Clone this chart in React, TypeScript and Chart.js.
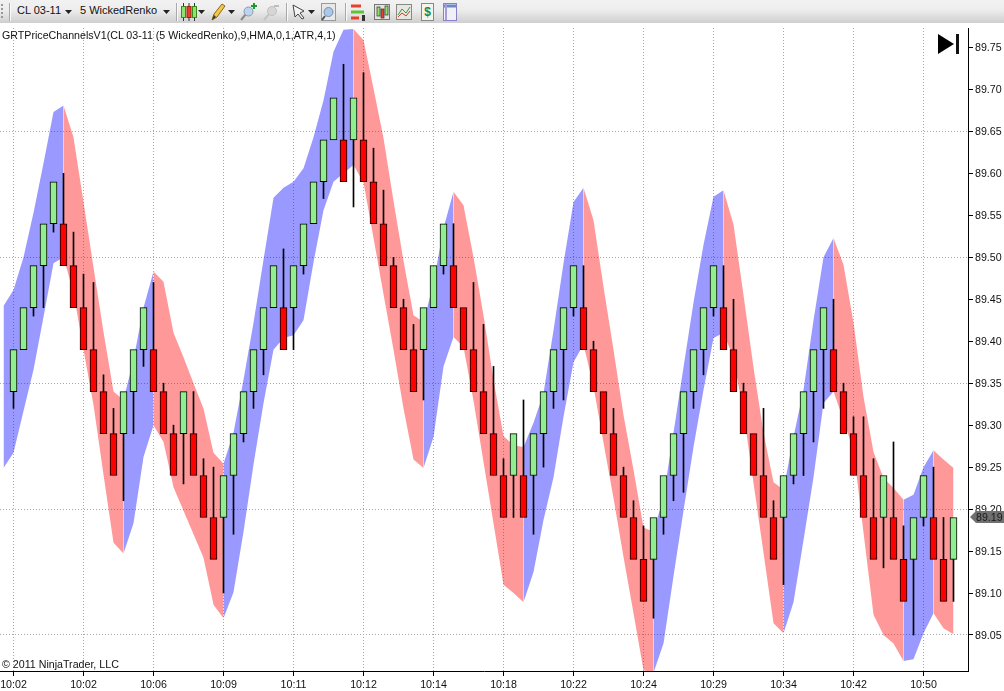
import React, { useEffect, useRef } from "react";
import { Chart, registerables } from "chart.js";
Chart.register(...registerables);

const instrument = "CL 03-11";
const barType = "5 WickedRenko";
const indicatorTitle = "GRTPriceChannelsV1(CL 03-11 (5 WickedRenko),9,HMA,0,1,ATR,4,1)";
const copyright = "© 2011 NinjaTrader, LLC";

const timeTicks = [0, 7, 14, 21, 28, 35, 42, 49, 56, 63, 70, 77, 84, 91];
const timeLabels = ["10:02", "10:02", "10:06", "10:09", "10:11", "10:12", "10:14", "10:18", "10:22", "10:24", "10:29", "10:34", "10:42", "10:50"];
const priceTicks = [89.05, 89.1, 89.15, 89.2, 89.25, 89.3, 89.35, 89.4, 89.45, 89.5, 89.55, 89.6, 89.65, 89.7, 89.75];
const priceGridLines = [89.05, 89.2, 89.35, 89.5, 89.65];

// renko bricks, one per bar
const opens = [
	89.34, 89.39, 89.44, 89.49, 89.54, 89.54, 89.49, 89.44, 89.39, 89.34, 89.29, 89.29, 89.34, 89.39, 89.39, 89.34,
	89.29, 89.29, 89.29, 89.24, 89.19, 89.19, 89.24, 89.29, 89.34, 89.39, 89.44, 89.44, 89.44, 89.49, 89.54, 89.59,
	89.64, 89.64, 89.64, 89.64, 89.59, 89.54, 89.49, 89.44, 89.39, 89.39, 89.44, 89.49, 89.49, 89.44, 89.39, 89.34,
	89.29, 89.24, 89.24, 89.24, 89.24, 89.29, 89.34, 89.39, 89.44, 89.44, 89.39, 89.34, 89.29, 89.24, 89.19, 89.14,
	89.14, 89.19, 89.24, 89.29, 89.34, 89.39, 89.44, 89.44, 89.39, 89.34, 89.29, 89.24, 89.19, 89.19, 89.24, 89.29,
	89.34, 89.39, 89.39, 89.34, 89.29, 89.24, 89.19, 89.19, 89.19, 89.14, 89.14, 89.19, 89.19, 89.14, 89.14,
];
const closes = [
	89.39, 89.44, 89.49, 89.54, 89.59, 89.49, 89.44, 89.39, 89.34, 89.29, 89.24, 89.34, 89.39, 89.44, 89.34, 89.29,
	89.24, 89.34, 89.24, 89.19, 89.14, 89.24, 89.29, 89.34, 89.39, 89.44, 89.49, 89.39, 89.49, 89.54, 89.59, 89.64,
	89.69, 89.59, 89.69, 89.59, 89.54, 89.49, 89.44, 89.39, 89.34, 89.44, 89.49, 89.54, 89.44, 89.39, 89.34, 89.29,
	89.24, 89.19, 89.29, 89.19, 89.29, 89.34, 89.39, 89.44, 89.49, 89.39, 89.34, 89.29, 89.24, 89.19, 89.14, 89.09,
	89.19, 89.24, 89.29, 89.34, 89.39, 89.44, 89.49, 89.39, 89.34, 89.29, 89.24, 89.19, 89.14, 89.24, 89.29, 89.34,
	89.39, 89.44, 89.34, 89.29, 89.24, 89.19, 89.14, 89.24, 89.14, 89.09, 89.19, 89.24, 89.14, 89.09, 89.19,
];
// far end of each bar's wick, null where the bar has none
const wickEnds = [
	89.32, null, 89.43, 89.44, 89.53, 89.6, 89.53, 89.48, 89.47, 89.36, 89.32, 89.21, 89.29, 89.37, 89.47, 89.35,
	89.3, 89.23, 89.34, 89.26, 89.25, 89.1, 89.17, 89.28, 89.32, 89.36, null, 89.51, 89.39, 89.48, null, 89.57,
	null, 89.73, 89.56, 89.72, 89.63, 89.58, 89.5, 89.45, 89.42, 89.33, null, 89.48, 89.54, null, 89.47, 89.42,
	89.37, 89.26, 89.19, 89.33, 89.17, 89.25, 89.32, 89.33, 89.43, 89.49, 89.4, null, 89.32, 89.25, 89.21, 89.18,
	89.07, 89.17, 89.21, 89.22, 89.32, 89.36, 89.43, 89.49, 89.45, 89.35, null, 89.32, 89.21, 89.11, 89.23, 89.24,
	89.28, 89.32, 89.45, 89.35, 89.31, 89.31, 89.26, 89.13, 89.28, 89.18, 89.05, 89.18, 89.25, 89.19, 89.09,
];

// channel edges, these start one bar before the first brick
const channelUpper = [
	89.442, 89.461, 89.5, 89.553, 89.612, 89.673, 89.681, 89.643, 89.566, 89.488, 89.411, 89.34, 89.33, 89.378, 89.44, 89.483,
	89.471, 89.41, 89.381, 89.35, 89.32, 89.267, 89.254, 89.291, 89.354, 89.422, 89.497, 89.571, 89.583, 89.59, 89.606, 89.643,
	89.687, 89.745, 89.771, 89.772, 89.759, 89.701, 89.642, 89.567, 89.496, 89.431, 89.423, 89.469, 89.535, 89.578, 89.562, 89.5,
	89.431, 89.354, 89.287, 89.276, 89.274, 89.303, 89.338, 89.413, 89.493, 89.566, 89.583, 89.544, 89.465, 89.39, 89.312, 89.247,
	89.178, 89.173, 89.214, 89.291, 89.369, 89.446, 89.515, 89.572, 89.58, 89.539, 89.455, 89.369, 89.291, 89.232, 89.223, 89.286,
	89.342, 89.425, 89.5, 89.523, 89.491, 89.422, 89.334, 89.268, 89.237, 89.225, 89.211, 89.217, 89.25, 89.27, 89.259, 89.249,
];
const channelLower = [
	89.249, 89.267, 89.317, 89.366, 89.429, 89.493, 89.5, 89.458, 89.39, 89.324, 89.241, 89.16, 89.147, 89.183, 89.262, 89.3,
	89.28, 89.226, 89.198, 89.17, 89.142, 89.086, 89.07, 89.101, 89.173, 89.253, 89.326, 89.39, 89.404, 89.407, 89.425, 89.494,
	89.556, 89.59, 89.6, 89.61, 89.589, 89.523, 89.456, 89.39, 89.32, 89.259, 89.249, 89.286, 89.37, 89.405, 89.393, 89.329,
	89.256, 89.183, 89.11, 89.1, 89.089, 89.125, 89.187, 89.238, 89.31, 89.375, 89.396, 89.346, 89.279, 89.213, 89.143, 89.076,
	89.008, 89.005, 89.04, 89.12, 89.198, 89.274, 89.342, 89.404, 89.41, 89.38, 89.315, 89.231, 89.148, 89.064, 89.052, 89.089,
	89.163, 89.238, 89.326, 89.34, 89.306, 89.27, 89.172, 89.074, 89.05, 89.04, 89.019, 89.021, 89.052, 89.076, 89.058, 89.051,
];
// bars where the channel swaps colour, starting out blue
const channelTurns = [5, 11, 14, 21, 34, 41, 44, 51, 57, 64, 71, 77, 82, 89, 92];

const BLUE_BAND = "rgba(0, 0, 255, 0.4)";
const RED_BAND = "rgba(255, 0, 0, 0.4)";
const FONT = "'Liberation Sans', Arial, sans-serif";

const bandColor = (bar: number) =>
	channelTurns.filter((turn) => turn <= bar).length % 2 === 0 ? BLUE_BAND : RED_BAND;

// grey flag on the price axis holding the last close
const lastPriceFlag = {
	id: "lastPriceFlag",
	afterDraw(chart: any) {
		const { ctx, scales } = chart;
		const last = closes[closes.length - 1];
		const y = Math.round(scales.y.getPixelForValue(last));
		const x = scales.y.left + 2;
		ctx.save();
		ctx.fillStyle = "#707070";
		ctx.beginPath();
		ctx.moveTo(x, y);
		ctx.lineTo(x + 6, y - 6);
		ctx.lineTo(1004, y - 6);
		ctx.lineTo(1004, y + 6);
		ctx.lineTo(x + 6, y + 6);
		ctx.closePath();
		ctx.fill();
		ctx.fillStyle = "#1a1a1a";
		ctx.font = `10.67px ${FONT}`;
		ctx.textAlign = "left";
		ctx.textBaseline = "middle";
		ctx.fillText(last.toFixed(2), x + 6, y + 1);
		ctx.restore();
	},
};

const Arrow = ({ x }: { x: number }) => (
	<svg style={{ position: "absolute", left: x, top: 10 }} width={7} height={4}>
		<path d="M0 0H7L3.5 4Z" fill="#222" />
	</svg>
);

const Separator = ({ x }: { x: number }) => (
	<div style={{ position: "absolute", left: x, top: 3, width: 1, height: 18, background: "#a8a8a8", borderRight: "1px solid #fafafa" }} />
);

const Toolbar = () => (
	<div
		style={{
			position: "absolute",
			left: 0,
			top: 0,
			width: 1004,
			height: 23,
			background: "linear-gradient(#f2f2f2, #ececec 45%, #cfcfcf)",
			font: `11px ${FONT}`,
			color: "#111",
		}}
	>
		<div style={{ position: "absolute", left: 1, top: 4, height: 14, width: 2, borderLeft: "2px dotted #999" }} />
		<Separator x={9} />
		<span style={{ position: "absolute", left: 17, top: 4 }}>{instrument}</span>
		<Arrow x={65} />
		<span style={{ position: "absolute", left: 80, top: 4 }}>{barType}</span>
		<Arrow x={163} />
		<Separator x={176} />
		<svg style={{ position: "absolute", left: 181, top: 3 }} width={16} height={18}>
			<path d="M2.5 0V18M8 0V18M13.5 0V18" stroke="#333" />
			<rect x="0.5" y="3.5" width="4" height="11" fill="#8fe36a" stroke="#3a8a20" />
			<rect x="6" y="3.5" width="4" height="11" fill="#e8402a" stroke="#9a2010" />
			<rect x="11.5" y="3.5" width="4" height="11" fill="#8fe36a" stroke="#3a8a20" />
		</svg>
		<Arrow x={198} />
		<svg style={{ position: "absolute", left: 211, top: 3 }} width={15} height={18}>
			<path d="M1 17L3 11L11 1L14 3L6 14Z" fill="#f2c84a" stroke="#8a6a10" />
			<path d="M1 17L3 12L5 14Z" fill="#333" />
		</svg>
		<Arrow x={228} />
		<svg style={{ position: "absolute", left: 240, top: 2 }} width={17} height={19}>
			<path d="M1 18L6 12" stroke="#8a8a8a" strokeWidth="2" />
			<circle cx="8.5" cy="9.5" r="4.5" fill="#bcd4ee" stroke="#8a9ab0" />
			<path d="M11 4H17M14 1V7" stroke="#1c9a30" strokeWidth="2" />
		</svg>
		<svg style={{ position: "absolute", left: 263, top: 3 }} width={16} height={18}>
			<path d="M1 17L6 11" stroke="#c4c4c4" strokeWidth="2" />
			<circle cx="9" cy="8" r="4.5" fill="#d6d6d6" stroke="#c0c0c0" />
			<path d="M11 3H16" stroke="#bdbdbd" strokeWidth="2" />
		</svg>
		<Separator x={286} />
		<svg style={{ position: "absolute", left: 292, top: 4 }} width={14} height={16}>
			<path d="M1 1L12 7L8 9L12 14L10 15L6 10L3 13Z" fill="#f4f4f4" stroke="#444" />
		</svg>
		<Arrow x={308} />
		<svg style={{ position: "absolute", left: 321, top: 3 }} width={15} height={18}>
			<rect x="0.5" y="0.5" width="14" height="17" fill="#e8e8e8" stroke="#999" />
			<circle cx="7.5" cy="9" r="4.5" fill="#a9c8ee" stroke="#7a8ea8" />
			<path d="M1 17L4 13" stroke="#555" strokeWidth="2" />
		</svg>
		<Separator x={345} />
		<svg style={{ position: "absolute", left: 350, top: 3 }} width={16} height={18}>
			<path d="M1 3H11" stroke="#e8402a" strokeWidth="3" />
			<path d="M1 9H14" stroke="#5bc43a" strokeWidth="3" />
			<path d="M1 15H9" stroke="#e8402a" strokeWidth="3" />
			<rect x="12" y="12" width="3" height="6" fill="#333" />
		</svg>
		<svg style={{ position: "absolute", left: 374, top: 3 }} width={17} height={18}>
			<rect x="0.5" y="1.5" width="15" height="15" fill="#e4e4dc" stroke="#777" />
			<rect x="3" y="4" width="3" height="9" fill="#8fe36a" stroke="#333" strokeWidth="0.7" />
			<rect x="7" y="6" width="3" height="9" fill="#e8402a" stroke="#333" strokeWidth="0.7" />
			<rect x="11" y="3" width="3" height="9" fill="#8fe36a" stroke="#333" strokeWidth="0.7" />
		</svg>
		<svg style={{ position: "absolute", left: 396, top: 3 }} width={17} height={18}>
			<rect x="0.5" y="1.5" width="15" height="15" fill="#e4e8e0" stroke="#888" />
			<path d="M2 12L6 6L10 10L14 4" fill="none" stroke="#3a9a40" />
			<path d="M2 14L6 10L10 13L14 8" fill="none" stroke="#d04030" />
		</svg>
		<svg style={{ position: "absolute", left: 421, top: 3 }} width={13} height={18}>
			<rect x="0.5" y="0.5" width="12" height="17" fill="#f4f4ec" stroke="#888" />
			<text x="6.5" y="13" textAnchor="middle" fontSize="12" fontWeight="bold" fill="#1c8a3c" fontFamily={FONT}>$</text>
		</svg>
		<svg style={{ position: "absolute", left: 443, top: 3 }} width={14} height={18}>
			<rect x="0.5" y="0.5" width="13" height="17" fill="#f0f0f8" stroke="#8a80c8" />
			<path d="M1 3H13" stroke="#6a8ac8" strokeWidth="3" />
			<path d="M3 1V17" stroke="#a89adc" strokeWidth="2" />
		</svg>
	</div>
);

export default function App() {
	const canvasRef = useRef<HTMLCanvasElement | null>(null);

	useEffect(() => {
		if (!canvasRef.current) return;

		const chart = new Chart(canvasRef.current, {
			type: "line",
			plugins: [lastPriceFlag],
			data: {
				datasets: [
					{
						label: "Channel upper",
						data: channelUpper.map((y, i) => ({ x: i - 1, y })),
						fill: "+1",
						borderWidth: 0,
						pointRadius: 0,
						tension: 0,
						order: 3,
						backgroundColor: BLUE_BAND,
						segment: { backgroundColor: (ctx: any) => bandColor(ctx.p0DataIndex - 1) },
					},
					{
						label: "Channel lower",
						data: channelLower.map((y, i) => ({ x: i - 1, y })),
						fill: false,
						borderWidth: 0,
						pointRadius: 0,
						tension: 0,
						order: 3,
					},
					{
						type: "bar",
						label: "Wicks",
						data: wickEnds
							.map((end, i) => ({ x: i, y: end === null ? null : [opens[i], end] }))
							.filter((bar) => bar.y !== null),
						backgroundColor: "#000",
						barThickness: 1,
						grouped: false,
						order: 2,
					},
					{
						type: "bar",
						label: "Bricks",
						data: opens.map((open, i) => ({ x: i, y: [open, closes[i]] })),
						backgroundColor: opens.map((open, i) => (closes[i] > open ? "#90ee90" : "#ff0000")),
						borderColor: "#000",
						borderWidth: 1,
						borderSkipped: false,
						barThickness: 7,
						grouped: false,
						order: 1,
					},
				] as any,
			},
			options: {
				animation: false,
				responsive: false,
				devicePixelRatio: 1,
				layout: { padding: { top: 28, left: 0, right: 0, bottom: 0 } },
				plugins: { legend: { display: false }, tooltip: { enabled: false } },
				scales: {
					x: {
						type: "linear",
						min: -1.35,
						max: 95.45,
						offset: false,
						afterBuildTicks: (scale: any) => {
							scale.ticks = timeTicks.map((value) => ({ value }));
						},
						afterFit: (scale: any) => {
							scale.height = 20;
							// the first label fits by itself, no room needed for it
							scale.paddingLeft = 0;
							scale.paddingRight = 0;
						},
						grid: {
							offset: false,
							color: "#a8a8a8",
							tickColor: "#000",
							tickLength: 5,
							tickBorderDash: [],
						},
						border: { color: "#000", dash: [1, 2] },
						ticks: {
							autoSkip: false,
							maxRotation: 0,
							padding: 3,
							color: "#111",
							font: { family: FONT, size: 10.67 },
							callback: (value: any) => timeLabels[timeTicks.indexOf(value)],
						},
					},
					y: {
						type: "linear",
						position: "right",
						min: 89.0071,
						max: 89.7732,
						afterBuildTicks: (scale: any) => {
							scale.ticks = priceTicks.map((value) => ({ value }));
						},
						afterFit: (scale: any) => {
							scale.width = 36;
						},
						grid: {
							color: (ctx: any) => (priceGridLines.includes(ctx.tick?.value) ? "#a8a8a8" : "rgba(0,0,0,0)"),
							tickColor: "#000",
							tickLength: 5,
							tickBorderDash: [],
						},
						border: { color: "#000", dash: [1, 2] },
						ticks: {
							autoSkip: false,
							padding: 2,
							labelOffset: 1,
							color: "#111",
							font: { family: FONT, size: 10.67 },
							callback: (value: any) => Number(value).toFixed(2),
						},
					},
				},
			} as any,
		});

		return () => chart.destroy();
	}, []);

	return (
		<div style={{ position: "absolute", left: 0, top: 0, width: 1004, height: 691, overflow: "hidden", background: "#fff" }}>
			<canvas ref={canvasRef} width={1004} height={691} style={{ position: "absolute", left: 0, top: 0, display: "block" }} />
			<Toolbar />
			<div style={{ position: "absolute", left: 2, top: 29, font: `10.67px ${FONT}`, color: "#111", whiteSpace: "nowrap" }}>{indicatorTitle}</div>
			<div style={{ position: "absolute", left: 2, top: 658, font: `10.67px ${FONT}`, color: "#111", whiteSpace: "nowrap" }}>{copyright}</div>
			<svg style={{ position: "absolute", left: 938, top: 34 }} width={21} height={20}>
				<path d="M0 0L16 10L0 20Z" fill="#000" />
				<rect x="18" y="0" width="3" height="20" fill="#111" />
			</svg>
		</div>
	);
}
